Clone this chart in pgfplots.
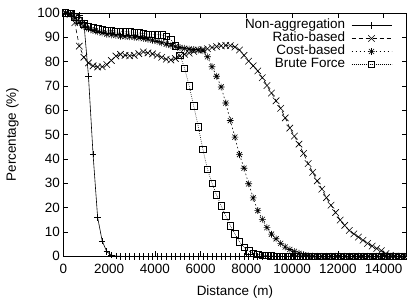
\documentclass[border=0pt]{standalone}
\usepackage{fontspec}
\setmainfont{Liberation Sans}
\usepackage{pgfplots}
\usepackage{pgfplotstable}
\pgfplotsset{compat=1.18}
\usetikzlibrary{calc}
\pgfdeclareplotmark{gpstar}{%
 \pgfpathmoveto{\pgfqpoint{-\pgfplotmarksize}{0pt}}\pgfpathlineto{\pgfqpoint{\pgfplotmarksize}{0pt}}%
 \pgfpathmoveto{\pgfqpoint{0pt}{-\pgfplotmarksize}}\pgfpathlineto{\pgfqpoint{0pt}{\pgfplotmarksize}}%
 \pgfpathmoveto{\pgfqpoint{-.75\pgfplotmarksize}{-.75\pgfplotmarksize}}\pgfpathlineto{\pgfqpoint{.75\pgfplotmarksize}{.75\pgfplotmarksize}}%
 \pgfpathmoveto{\pgfqpoint{-.75\pgfplotmarksize}{.75\pgfplotmarksize}}\pgfpathlineto{\pgfqpoint{.75\pgfplotmarksize}{-.75\pgfplotmarksize}}%
 \pgfusepathqstroke}
\pgfplotstableread{
x na ra co bf
100 100 100 100 100
300 100 99.5 99.5 99.8
500 99.8 96 98 98.5
700 99 86.4 96 97
900 96 81.8 94.5 95.5
1100 74 79.5 93.5 94.5
1300 42 78.3 92.8 94
1500 16 77.8 92.3 93.5
1700 6.3 77.9 91.8 93.2
1900 1.9 78.8 91.3 93
2100 0.5 80.5 91 92.8
2300 0.1 82.3 90.8 92.6
2500 0 83 90.5 92.5
2700 0 82.6 90.3 92.3
2900 0 82.4 90.2 92.2
3100 0 82.6 90 92
3300 0 83.3 89.8 91.8
3500 0 84 89.5 91.5
3700 0 83.6 89.2 91.3
3900 0 83.2 88.8 91.2
4100 0 82.6 88.3 91.1
4300 0 81.8 87.8 91
4500 0 81 87.2 90.5
4700 0 80.7 86.7 89
4900 0 81.3 86.2 86.5
5100 0 82.3 85.8 82.7
5300 0 83 85.5 77.3
5500 0 83.5 85.2 70.1
5700 0 84.2 85 61.8
5900 0 84.8 84.8 53.3
6100 0 85 84.5 44
6300 0 85.3 82 35.8
6500 0 85.8 77.9 30
6700 0 86.2 74 25.2
6900 0 86.5 69.6 20.7
7100 0 86.7 63 16.6
7300 0 86.6 55.8 12.6
7500 0 86 49 9.2
7700 0 84.8 41.8 6
7900 0 82.6 36.2 3.7
8100 0 80.2 29.8 2.2
8300 0 78.3 24 1.3
8500 0 76.2 18.8 0.8
8700 0 73.4 15.2 0.5
8900 0 70.2 11.8 0.3
9100 0 67.1 9.1 0.2
9300 0 63.9 7.2 0.1
9500 0 60.8 5.3 0
9700 0 56.9 3.8 0
9900 0 52.7 2.8 0
10100 0 49.4 2 0
10300 0 46.1 1.2 0
10500 0 42.3 0.6 0
10700 0 38.1 0.3 0
10900 0 34.5 0.1 0
11100 0 31 0 0
11300 0 27.6 0 0
11500 0 24.1 0 0
11700 0 21 0 0
11900 0 18 0 0
12100 0 14.9 0 0
12300 0 12.7 0 0
12500 0 10.6 0 0
12700 0 9.2 0 0
12900 0 7.9 0 0
13100 0 6.6 0 0
13300 0 5.3 0 0
13500 0 4.2 0 0
13700 0 3.2 0 0
13900 0 2.3 0 0
14100 0 1.1 0 0
14300 0 0.4 0 0
14500 0 0.1 0 0
14700 0 0 0 0
14900 0 0 0 0
}\data
\begin{document}
\begin{tikzpicture}
\begin{axis}[
  scale only axis, width=343.2bp, height=243.3bp,
  xmin=0, xmax=15000, ymin=0, ymax=100,
  xtick={0,2000,...,14000}, ytick={0,10,...,100},
  tick align=inside, major tick length=5bp,
  axis line style={line width=0.7bp},
  tick style={line width=0.6bp, black},
  font=\fontsize{13.5}{16}\selectfont,
  /pgf/number format/assume math mode=true,
  /pgf/number format/set thousands separator={},
  scaled x ticks=false,
  xticklabel style={yshift=-4bp},
  xlabel={Distance (m)}, ylabel={Percentage (\%)},
  every axis x label/.style={at={(axis description cs:0.5,0)}, anchor=base, yshift=-38.7bp},
  every axis y label/.style={at={(axis description cs:0,0.5)}, anchor=base, xshift=-47.3bp, rotate=90},
  legend plot pos=right, legend cell align=right,
  legend style={at={(1,1)}, anchor=north east, xshift=-14.5bp, yshift=-6bp,
    draw=none, fill=none, inner sep=0pt, row sep=0.5bp, column sep=4bp,
    nodes={inner xsep=2bp, inner ysep=0.5bp, text height=9bp, text depth=2.5bp}},
  legend image code/.code={\draw[mark repeat=2,mark phase=2,#1] plot coordinates {(0bp,0bp)(20bp,0bp)(40bp,0bp)};},
  every axis plot/.append style={black, line width=0.6bp, mark size=3bp},
]
\coordinate (ll) at (rel axis cs:0,0);
\coordinate (ur) at (rel axis cs:1,1);
\addplot[mark=+, mark size=3.2bp, mark options={solid}] table[x=x,y=na] {\data};
\addlegendentry{Non-aggregation}
\addplot[dash pattern=on 4bp off 3bp, mark=x, mark size=4.6bp, mark options={solid}] table[x=x,y=ra] {\data};
\addlegendentry{Ratio-based}
\addplot[dash pattern=on 1.5bp off 2.5bp, mark=gpstar, mark size=3.4bp, mark options={solid}] table[x=x,y=co] {\data};
\addlegendentry{Cost-based}
\addplot[dash pattern=on 0.7bp off 1.3bp, mark=square, mark size=3.2bp, mark options={solid}] table[x=x,y=bf] {\data};
\addlegendentry{Brute Force}
\end{axis}
\pgfresetboundingbox
\path[use as bounding box] ($(ll)+(-63.3bp,-45.7bp)$) rectangle ($(ur)+(0.5bp,13bp)$);
\end{tikzpicture}
\end{document}
